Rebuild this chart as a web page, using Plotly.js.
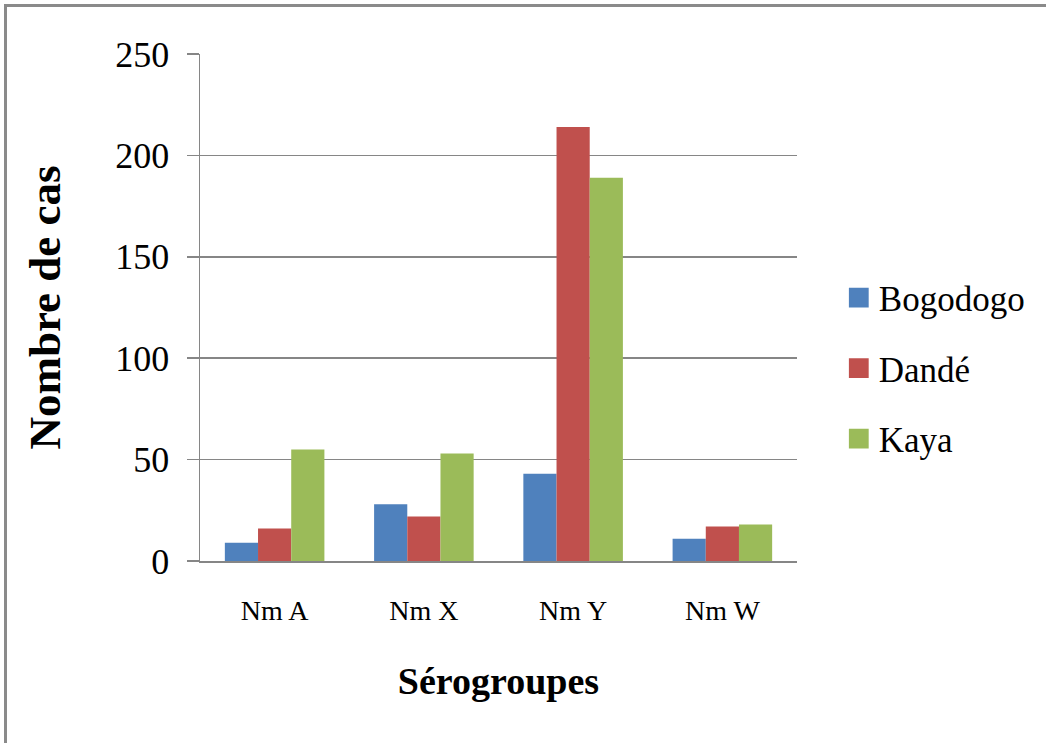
<!DOCTYPE html>
<html>
<head>
<meta charset="utf-8">
<script src="https://cdn.plot.ly/plotly-3.0.1.min.js"></script>
<style>
  html, body { margin: 0; padding: 0; background: #fff; }
  #wrap { position: relative; width: 1046px; height: 743px; overflow: hidden; }
  #chart { width: 1046px; height: 743px; }
  #frame { position: absolute; left: 4px; top: 4px; width: 1100px; height: 800px;
           border-left: 3px solid #8a8a8a; border-top: 3px solid #8a8a8a; pointer-events: none; }
</style>
</head>
<body>
<div id="wrap">
  <div id="chart"></div>
  <div id="frame"></div>
</div>
<script>
const categories = ["Nm A", "Nm X", "Nm Y", "Nm W"];
const seriesNames = ["Bogodogo", "Dandé", "Kaya"];
const bogodogo = [9, 28, 43, 11];
const dande = [16, 22, 214, 17];
const kaya = [55, 53, 189, 18];
const yTicks = [0, 50, 100, 150, 200, 250];
const colors = ["#4F81BD", "#C0504D", "#9BBB59"];

const values = [bogodogo, dande, kaya];
const traces = values.map((v, i) => ({
  type: "bar",
  name: seriesNames[i],
  x: categories,
  y: v,
  marker: { color: colors[i], line: { width: 0 } },
  legendgroup: "g" + i,
  hoverinfo: "x+y+name"
}));

const font = "Liberation Serif";
const layout = {
  width: 1046,
  height: 743,
  margin: { l: 200, r: 249, t: 54, b: 182 },
  paper_bgcolor: "#ffffff",
  plot_bgcolor: "#ffffff",
  barmode: "group",
  bargap: 0.333,
  bargroupgap: 0,
  font: { family: font, color: "#000" },
  showlegend: true,
  legend: {
    x: 1.07, xanchor: "left",
    y: 0.38, yanchor: "middle",
    font: { family: font, size: 35, color: "#000" },
    tracegroupgap: 22,
    itemwidth: 30,
    bgcolor: "rgba(0,0,0,0)"
  },
  xaxis: {
    type: "category",
    tickfont: { family: font, size: 28, color: "#000" },
    showline: true,
    linecolor: "#868686",
    linewidth: 1.5,
    ticks: "",
    ticklabelstandoff: 24,
    title: { text: "Sérogroupes", font: { family: font, size: 38, color: "#000", weight: "bold" }, standoff: 42 }
  },
  yaxis: {
    range: [0, 250],
    tickvals: yTicks,
    ticktext: yTicks.map(String),
    tickfont: { family: font, size: 36, color: "#000" },
    showgrid: true,
    gridcolor: "#868686",
    gridwidth: 1.5,
    zeroline: false,
    showline: true,
    linecolor: "#868686",
    linewidth: 1.5,
    ticks: "outside",
    ticklen: 12,
    tickwidth: 1.5,
    tickcolor: "#868686",
    ticklabelstandoff: 10,
    title: { text: "Nombre de cas", font: { family: font, size: 45, color: "#000", weight: "bold" }, standoff: 40 }
  }
};

Plotly.newPlot("chart", traces, layout, { displayModeBar: false, staticPlot: true }).then(() => {
  document.querySelectorAll("#chart .legend .legendpoints path").forEach(p => {
    const t = p.getAttribute("transform") || "";
    p.setAttribute("transform", t + " scale(1.65)");
  });
  document.querySelectorAll("#chart .legendtext").forEach(t => {
    t.style.fontFamily = "'Liberation Serif', serif";
  });
  document.querySelectorAll("#chart .g-xtitle text, #chart .g-ytitle text").forEach(t => {
    t.style.fontFamily = "'Liberation Serif', serif";
    t.style.fontWeight = "bold";
  });
});
</script>
</body>
</html>
